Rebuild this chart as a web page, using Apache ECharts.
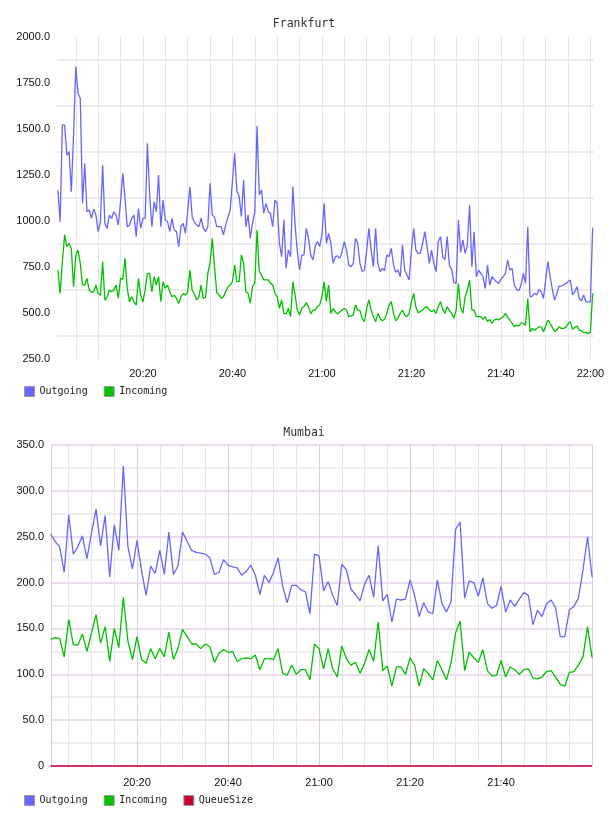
<!DOCTYPE html>
<html>
<head>
<meta charset="utf-8">
<title>Frankfurt / Mumbai</title>
<script src="https://cdn.jsdelivr.net/npm/echarts@6/dist/echarts.min.js"></script>
<style>
  html, body { margin: 0; padding: 0; background: #fff; }
  #chart { width: 608px; height: 816px; }
</style>
</head>
<body>
<div id="chart"></div>
<script>
// Frankfurt: one sample every 30 s starting 20:01
const frankfurtStart = 1;
const frankfurtStep = 0.5;
const frankfurtOutgoing = [
  1168, 996, 1522, 1522, 1358, 1377, 1159, 1467, 1839, 1694,
  1666, 1096, 1313, 1050, 1060, 1014, 1065, 1032, 942, 996,
  1304, 987, 960, 1032, 1014, 1050, 1032, 978, 1105, 1259,
  1123, 969, 978, 1014, 1032, 915, 1068, 960, 1014, 1014,
  1422, 1141, 969, 1105, 1050, 1250, 969, 1114, 1005, 996,
  942, 1014, 951, 942, 860, 969, 987, 933, 1050, 1186,
  1024, 993, 979, 969, 1015, 960, 942, 969, 1205, 1033,
  1020, 969, 969, 969, 924, 979, 1020, 1060, 1214, 1368,
  1160, 1133, 1024, 1223, 969, 1033, 906, 988, 1051, 1517,
  1142, 1169, 1042, 1096, 1051, 1042, 969, 1114, 1096, 879,
  806, 1006, 743, 843, 806, 1187, 979, 834, 734, 815,
  815, 960, 906, 815, 788, 861, 888, 861, 924, 1096,
  879, 933, 879, 770, 806, 810, 797, 833, 888, 842,
  761, 752, 770, 906, 879, 770, 725, 734, 842, 960,
  842, 752, 960, 770, 725, 743, 730, 815, 806, 851,
  761, 721, 734, 697, 870, 734, 707, 679, 842, 960,
  842, 824, 824, 879, 942, 861, 770, 842, 770, 725,
  888, 915, 806, 788, 915, 756, 737, 665, 661, 1005,
  830, 897, 824, 869, 1087, 752, 942, 697, 733, 715,
  697, 634, 761, 652, 697, 683, 670, 661, 683, 697,
  715, 788, 733, 742, 652, 628, 621, 652, 715, 661,
  969, 588, 592, 607, 598, 628, 616, 579, 679, 779,
  697, 625, 570, 607, 646, 646, 652, 661, 670, 679,
  598, 616, 643, 579, 567, 598, 561, 561, 561, 965
];
const frankfurtIncoming = [
  733, 606, 779, 924, 860, 878, 851, 643, 815, 842,
  770, 652, 652, 688, 625, 612, 615, 652, 606, 597,
  779, 570, 588, 625, 615, 625, 652, 579, 688, 684,
  797, 634, 561, 588, 561, 543, 688, 597, 561, 625,
  715, 715, 615, 697, 652, 697, 561, 670, 634, 652,
  615, 588, 597, 579, 552, 588, 606, 597, 615, 733,
  625, 603, 571, 585, 652, 580, 585, 716, 770, 906,
  752, 611, 598, 580, 589, 616, 643, 652, 670, 761,
  670, 670, 815, 770, 616, 607, 553, 647, 661, 951,
  725, 707, 680, 680, 680, 661, 652, 607, 589, 526,
  571, 495, 498, 526, 480, 670, 598, 516, 489, 526,
  535, 556, 535, 495, 516, 516, 535, 544, 589, 670,
  562, 652, 498, 525, 507, 495, 507, 516, 525, 516,
  480, 484, 489, 543, 516, 513, 471, 453, 525, 571,
  516, 480, 453, 498, 471, 458, 466, 498, 543, 562,
  498, 458, 471, 498, 516, 489, 480, 498, 562, 607,
  531, 502, 507, 516, 531, 534, 516, 507, 516, 498,
  534, 562, 520, 498, 534, 513, 498, 471, 516, 661,
  530, 498, 588, 625, 679, 516, 516, 480, 480, 480,
  465, 480, 453, 465, 443, 462, 467, 462, 471, 480,
  498, 476, 462, 443, 425, 434, 429, 447, 443, 434,
  579, 398, 416, 407, 416, 425, 425, 398, 429, 462,
  443, 422, 398, 407, 425, 416, 416, 422, 440, 453,
  411, 422, 429, 407, 404, 393, 395, 389, 395, 607
];

// Mumbai: one sample per minute starting 20:01
const mumbaiStart = 1;
const mumbaiStep = 1;
const mumbaiOutgoing = [
  253, 245, 239, 211, 274, 231, 239, 251, 226, 254,
  280, 240, 273, 206, 263, 235, 327, 239, 215, 246,
  213, 186, 218, 210, 235, 209, 255, 209, 218, 255,
  245, 235, 233, 232, 231, 227, 209, 211, 225, 219,
  217, 216, 208, 212, 219, 208, 187, 208, 200, 211,
  227, 196, 178, 197, 197, 192, 190, 166, 231, 229,
  191, 201, 186, 175, 220, 214, 193, 187, 180, 198,
  208, 184, 240, 180, 187, 157, 182, 181, 182, 203,
  186, 163, 178, 168, 166, 203, 177, 168, 179, 258,
  266, 183, 202, 200, 185, 205, 177, 172, 175, 196,
  168, 181, 174, 182, 189, 186, 154, 170, 163, 177,
  181, 172, 141, 141, 170, 174, 183, 214, 250, 206
];
const mumbaiIncoming = [
  138, 140, 139, 119, 160, 132, 132, 144, 125, 145,
  165, 134, 152, 114, 150, 129, 184, 136, 116, 141,
  116, 112, 128, 117, 128, 119, 146, 116, 128, 149,
  141, 133, 133, 128, 133, 130, 113, 123, 127, 124,
  125, 114, 117, 118, 117, 121, 105, 117, 117, 116,
  128, 101, 99, 110, 100, 105, 105, 94, 133, 128,
  106, 128, 106, 97, 131, 117, 110, 113, 101, 112,
  127, 114, 157, 104, 109, 87, 108, 108, 100, 118,
  110, 87, 106, 101, 94, 115, 105, 94, 112, 145,
  158, 104, 124, 118, 113, 127, 104, 98, 99, 115,
  97, 108, 105, 100, 105, 106, 96, 95, 97, 103,
  104, 97, 89, 87, 102, 103, 110, 119, 152, 118
];
const mumbaiQueueSize = [
  0, 0, 0, 0, 0, 0, 0, 0, 0, 0, 0, 0, 0, 0, 0, 0, 0, 0, 0, 0,
  0, 0, 0, 0, 0, 0, 0, 0, 0, 0, 0, 0, 0, 0, 0, 0, 0, 0, 0, 0,
  0, 0, 0, 0, 0, 0, 0, 0, 0, 0, 0, 0, 0, 0, 0, 0, 0, 0, 0, 0,
  0, 0, 0, 0, 0, 0, 0, 0, 0, 0, 0, 0, 0, 0, 0, 0, 0, 0, 0, 0,
  0, 0, 0, 0, 0, 0, 0, 0, 0, 0, 0, 0, 0, 0, 0, 0, 0, 0, 0, 0,
  0, 0, 0, 0, 0, 0, 0, 0, 0, 0, 0, 0, 0, 0, 0, 0, 0, 0, 0, 0
];

// minutes after 20:00
const gridMinutes = [5, 10, 15, 20, 25, 30, 35, 40, 45, 50, 55, 60, 65, 70, 75, 80, 85, 90, 95, 100, 105, 110, 115, 120];
const majorMinutes = [20, 40, 60, 80, 100, 120];
const minorMinutes = [5, 10, 15, 25, 30, 35, 45, 50, 55, 65, 70, 75, 85, 90, 95, 105, 110, 115];
const frankfurtLabelMinutes = [20, 40, 60, 80, 100, 120];
const mumbaiLabelMinutes = [20, 40, 60, 80, 100];

const withTime = (values, start, step) => values.map((v, i) => [start + i * step, v]);
const fmtTime = m => {
  const h = 20 + Math.floor(m / 60);
  const mm = Math.round(m % 60);
  return h + ':' + (mm < 10 ? '0' : '') + mm;
};

const BLUE = '#6666ff';
const GREEN = '#00c000';
const RED = '#cc0033';
const PINK = '#eadcee';
const GREY = '#ededed';
const labelFont = { fontFamily: 'Liberation Sans, Arial', fontSize: 11, color: '#111' };
const monoFont = 'DejaVu Sans Mono';

const chart = echarts.init(document.getElementById('chart'));
chart.setOption({
  animation: false,
  title: [
    { text: 'Frankfurt', left: 'center', top: 13,
      textStyle: { fontFamily: monoFont, fontSize: 11.5, fontWeight: 'normal', color: '#333' } },
    { text: 'Mumbai', left: 'center', top: 422,
      textStyle: { fontFamily: monoFont, fontSize: 11.5, fontWeight: 'normal', color: '#333' } }
  ],
  legend: [
    { data: ['Outgoing', 'Incoming'], left: 24, top: 386, padding: 0, itemGap: 16,
      itemWidth: 10, itemHeight: 10, icon: 'rect',
      itemStyle: { borderColor: '#999', borderWidth: 1 },
      textStyle: { fontFamily: monoFont, fontSize: 10, color: '#222' } },
    { data: ['Outgoing', 'Incoming', 'QueueSize'], left: 24, top: 795, padding: 0, itemGap: 16,
      itemWidth: 10, itemHeight: 10, icon: 'rect',
      itemStyle: { borderColor: '#999', borderWidth: 1 },
      textStyle: { fontFamily: monoFont, fontSize: 10, color: '#222' } }
  ],
  grid: [
    { left: 57, right: 14, top: 37, height: 322 },
    { left: 51, right: 15, top: 445, height: 321 }
  ],
  xAxis: [
    { gridIndex: 0, type: 'value', min: 0.8, max: 120.8,
      axisLine: { show: false },
      axisTick: { show: false, customValues: gridMinutes },
      axisLabel: Object.assign({ customValues: frankfurtLabelMinutes, formatter: fmtTime, margin: 9 }, labelFont),
      splitLine: { show: true, lineStyle: { color: '#e6e6e6', width: 1 } } },
    { gridIndex: 1, type: 'value', min: 1.1, max: 120.2,
      axisLine: { show: false },
      axisTick: { show: false, customValues: majorMinutes },
      axisLabel: Object.assign({ customValues: mumbaiLabelMinutes, formatter: fmtTime, margin: 11 }, labelFont),
      splitLine: { show: true, lineStyle: { color: '#dfc9e4', width: 1 } } },
    { gridIndex: 1, type: 'value', min: 1.1, max: 120.2, position: 'bottom',
      axisLine: { show: false },
      axisTick: { show: false, customValues: minorMinutes },
      axisLabel: { show: false },
      splitLine: { show: true, lineStyle: { color: '#e9e4ea', width: 1 } } }
  ],
  yAxis: [
    { gridIndex: 0, type: 'value', min: 250, max: 2000, interval: 250,
      axisLine: { show: false }, axisTick: { show: false },
      axisLabel: Object.assign({ formatter: v => v.toFixed(1), margin: 7 }, labelFont),
      splitLine: { show: false },
      minorTick: { show: false, splitNumber: 2 },
      minorSplitLine: { show: true, lineStyle: { color: '#ececec', width: 2 } } },
    { gridIndex: 1, type: 'value', min: 0, max: 350, interval: 50,
      axisLine: { show: true, lineStyle: { color: '#dfc9e4', width: 1 } }, axisTick: { show: false },
      axisLabel: Object.assign({ formatter: v => (v === 0 ? '0' : v.toFixed(1)), margin: 7 }, labelFont),
      splitLine: { show: true, lineStyle: { color: PINK, width: 2 } },
      minorTick: { show: false, splitNumber: 2 },
      minorSplitLine: { show: true, lineStyle: { color: GREY, width: 2 } } }
  ],
  series: [
    { name: 'Outgoing', type: 'line', xAxisIndex: 0, yAxisIndex: 0, symbol: 'none',
      color: BLUE, lineStyle: { width: 1.3 }, data: withTime(frankfurtOutgoing, frankfurtStart, frankfurtStep) },
    { name: 'Incoming', type: 'line', xAxisIndex: 0, yAxisIndex: 0, symbol: 'none',
      color: GREEN, lineStyle: { width: 1.3 }, data: withTime(frankfurtIncoming, frankfurtStart, frankfurtStep) },
    { name: 'Outgoing', type: 'line', xAxisIndex: 1, yAxisIndex: 1, symbol: 'none',
      color: BLUE, lineStyle: { width: 1.3 }, data: withTime(mumbaiOutgoing, mumbaiStart, mumbaiStep) },
    { name: 'Incoming', type: 'line', xAxisIndex: 1, yAxisIndex: 1, symbol: 'none',
      color: GREEN, lineStyle: { width: 1.3 }, data: withTime(mumbaiIncoming, mumbaiStart, mumbaiStep) },
    { name: 'QueueSize', type: 'line', xAxisIndex: 1, yAxisIndex: 1, symbol: 'none', clip: false,
      color: RED, lineStyle: { width: 1.3 }, data: withTime(mumbaiQueueSize, mumbaiStart, mumbaiStep) }
  ]
});
</script>
</body>
</html>
